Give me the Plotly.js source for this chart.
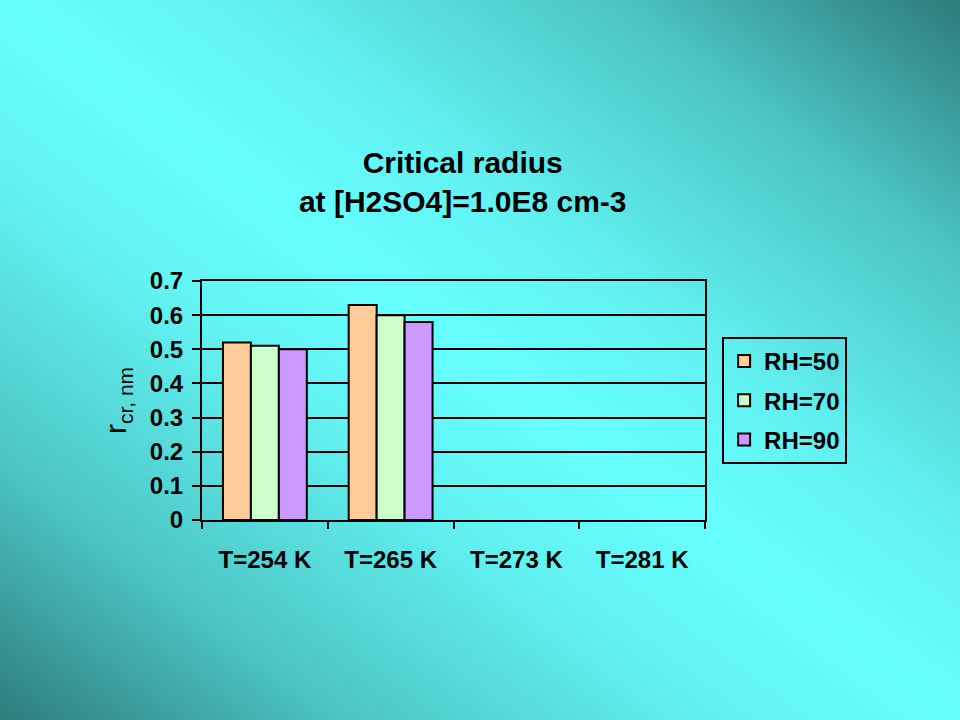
<!DOCTYPE html>
<html>
<head>
<meta charset="utf-8">
<script src="https://cdn.plot.ly/plotly-3.0.1.min.js"></script>
<style>
  html, body { margin: 0; padding: 0; width: 960px; height: 720px; overflow: hidden; }
  body { background: linear-gradient(to top right, #2e7c7c 0%, #4cc4c4 18%, #62f2f2 38%, #66ffff 50%, #62f2f2 62%, #4cc4c4 82%, #2e7a7a 100%); }
  #chart { width: 960px; height: 720px; }
</style>
</head>
<body>
<div id="chart"></div>
<script>
const categories = ["T=254 K", "T=265 K", "T=273 K", "T=281 K"];
const seriesNames = ["RH=50", "RH=70", "RH=90"];
const rh50 = [0.52, 0.63, null, null];
const rh70 = [0.51, 0.60, null, null];
const rh90 = [0.50, 0.58, null, null];
const seriesColors = ["#FFCC99", "#CCFFCC", "#CC99FF"];
const yTickValues = [0, 0.1, 0.2, 0.3, 0.4, 0.5, 0.6, 0.7];

const FONT = "Liberation Sans, Arial, sans-serif";
const values = [rh50, rh70, rh90];
const traces = values.map((v, i) => ({
  type: "bar",
  name: seriesNames[i],
  x: categories,
  y: v,
  legendgroup: "g" + i,
  marker: { color: seriesColors[i], line: { color: "#000000", width: 2 } },
  hoverinfo: "skip"
}));

const layout = {
  width: 960,
  height: 720,
  paper_bgcolor: "rgba(0,0,0,0)",
  plot_bgcolor: "rgba(0,0,0,0)",
  margin: { l: 202, r: 255, t: 281, b: 200 },
  barmode: "group",
  bargap: 0.333,
  bargroupgap: 0,
  font: { family: FONT, color: "#000000" },
  title: {
    text: "<b>Critical radius<br>at [H2SO4]=1.0E8 cm-3</b>",
    font: { family: FONT, size: 30, color: "#000000" },
    x: 0.482,
    xanchor: "center",
    xref: "container",
    y: 1 - 173 / 720,
    yanchor: "top",
    yref: "container"
  },
  xaxis: {
    type: "category",
    showline: true,
    linecolor: "#000000",
    linewidth: 2,
    mirror: true,
    ticks: "outside",
    tickson: "boundaries",
    ticklen: 7,
    tickwidth: 2,
    tickcolor: "#000000",
    tickfont: { family: FONT, size: 24, color: "#000000", weight: "bold" },
    ticklabelstandoff: 17,
    showgrid: false,
    automargin: false
  },
  yaxis: {
    range: [0, 0.7],
    tickvals: yTickValues,
    showline: true,
    linecolor: "#000000",
    linewidth: 2,
    mirror: true,
    ticks: "outside",
    ticklen: 8,
    tickwidth: 2,
    tickcolor: "#000000",
    tickfont: { family: FONT, size: 24, color: "#000000", weight: "bold" },
    ticklabelstandoff: 4,
    showgrid: true,
    gridcolor: "#000000",
    gridwidth: 2,
    zeroline: false,
    automargin: false,
    title: {
      text: "r<sub>cr, nm</sub>",
      font: { family: FONT, size: 30, color: "#000000" },
      standoff: 14
    }
  },
  showlegend: true,
  legend: {
    x: 1.034,
    xanchor: "left",
    y: 0.766,
    yanchor: "top",
    bgcolor: "rgba(0,0,0,0)",
    bordercolor: "#000000",
    borderwidth: 2,
    font: { family: FONT, size: 24, color: "#000000", weight: "bold" },
    tracegroupgap: 5,
    itemwidth: 30
  }
};

Plotly.newPlot("chart", traces, layout, { staticPlot: true, displayModeBar: false });
</script>
</body>
</html>
